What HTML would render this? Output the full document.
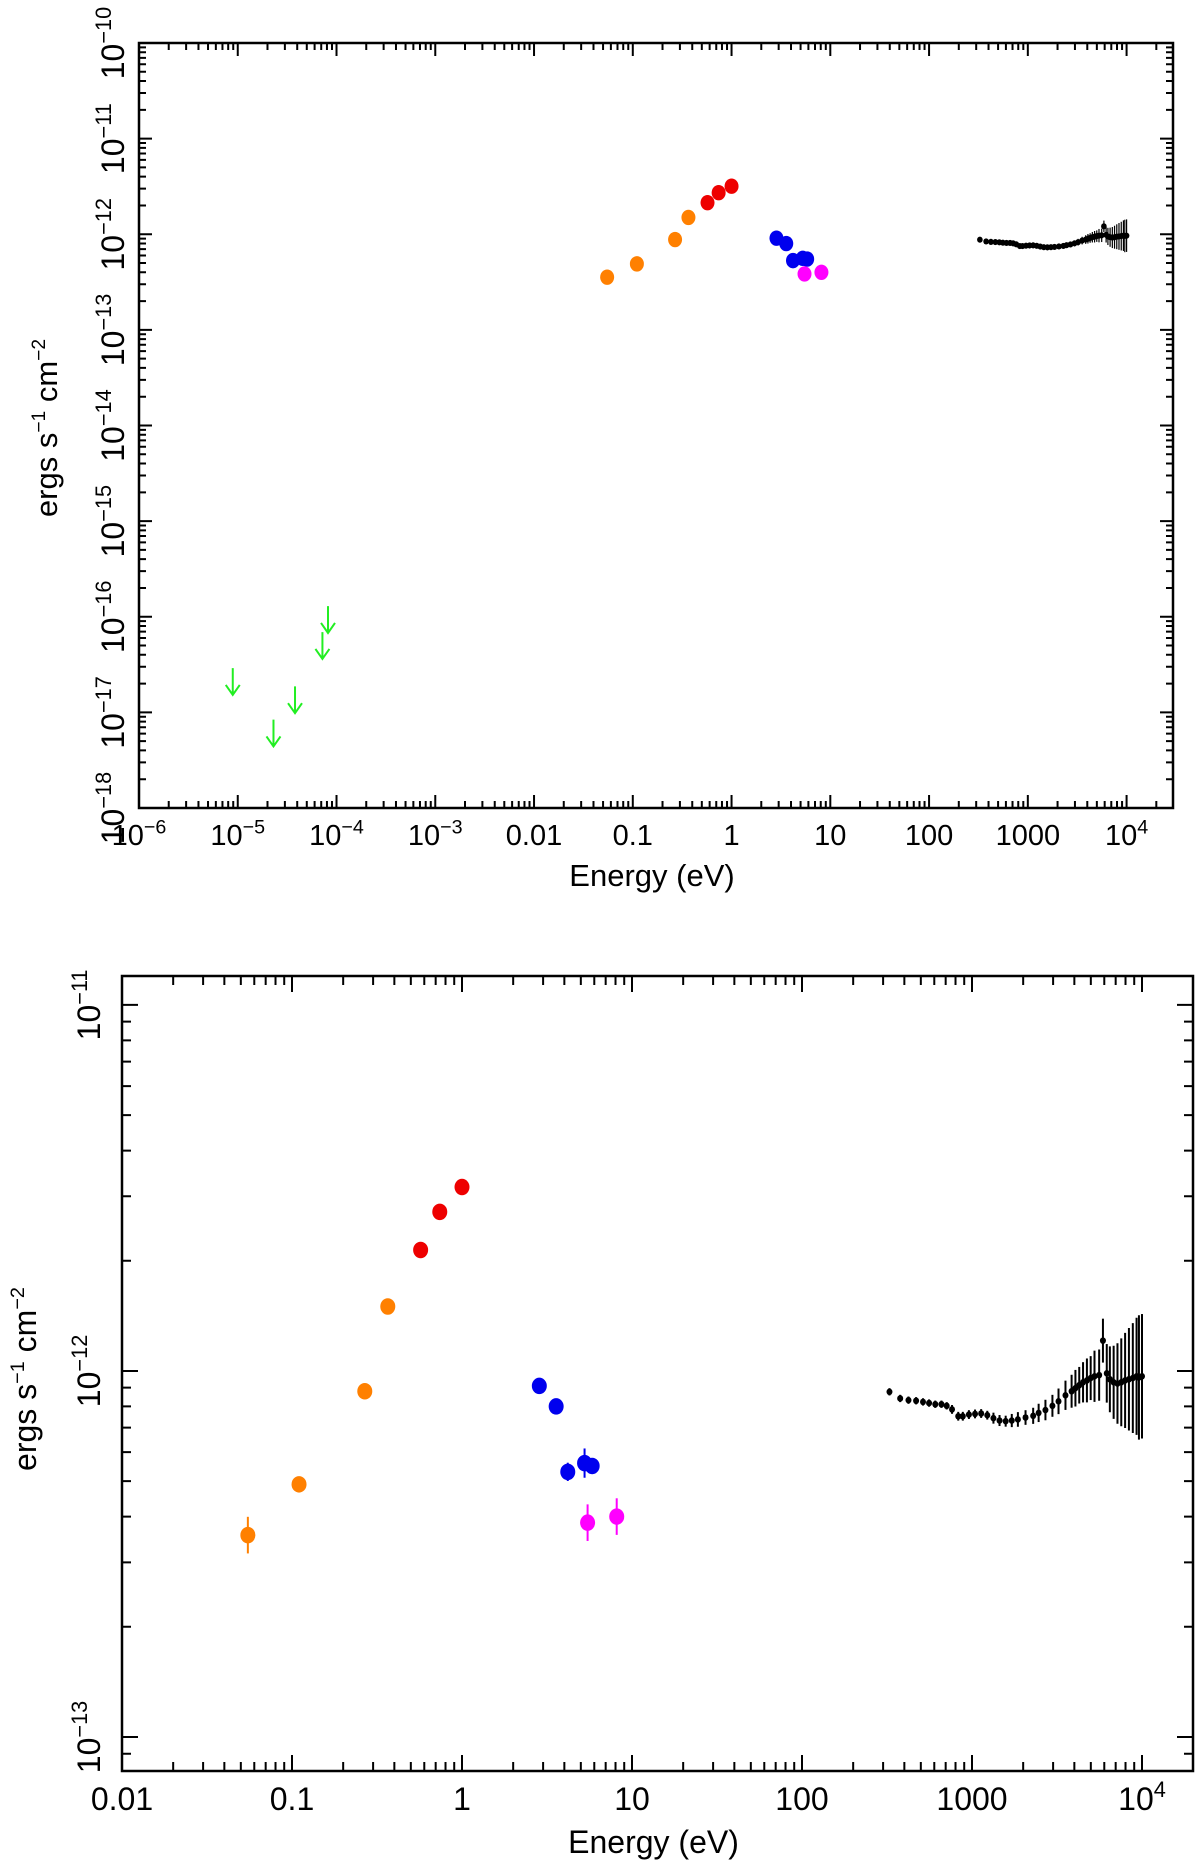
<!DOCTYPE html>
<html><head><meta charset="utf-8"><style>
html,body{margin:0;padding:0;background:#fff;}
svg text{font-family:"Liberation Sans",sans-serif;fill:#000;}
</style></head><body>
<svg id="chart" width="1200" height="1863" viewBox="0 0 1200 1863" xmlns="http://www.w3.org/2000/svg"></svg>
<script>
// ---- data ----
const optE = [0.055, 0.11, 0.268, 0.366];
const optF = [3.56e-13, 4.9e-13, 8.8e-13, 1.5e-12];
const optErr = [0.05, 0.02, 0.02, 0.02];
const redE = [0.571, 0.74, 1.0];
const redF = [2.14e-12, 2.72e-12, 3.18e-12];
const redErr = [0.02, 0.02, 0.02];
const blueE = [2.85, 3.58, 4.19, 5.26, 5.83];
const blueF = [9.1e-13, 8.0e-13, 5.3e-13, 5.6e-13, 5.5e-13];
const blueErr = [0.02, 0.02, 0.025, 0.04, 0.02];
const magE = [5.48, 8.13];
const magF = [3.85e-13, 4.0e-13];
const magErr = [0.05, 0.05];
const xrayE = [327,378,423,469,515,559,608,661,710,763,830,883,959,1042,1132,1230,1337,1452,1578,1714,1862,2065,2290,2466,2704,2972,3228,3547,3854,4059,4274,4500,4742,4990,5256,5597,5892,6205,6471,6811,7173,7553,7955,8377,8831,9290,9594,10000];
const xrayF = [8.77,8.41,8.32,8.29,8.23,8.17,8.11,8.11,8.03,7.85,7.52,7.52,7.60,7.63,7.65,7.57,7.43,7.32,7.29,7.32,7.37,7.46,7.54,7.68,7.82,8.03,8.26,8.58,8.80,8.97,9.14,9.31,9.42,9.56,9.67,9.74,12.1,9.85,9.49,9.31,9.24,9.31,9.42,9.49,9.56,9.67,9.60,9.67]; // units of 1e-13
const xrayErr = [0.01,0.01,0.01,0.01,0.01,0.01,0.01,0.01,0.01,0.012,0.012,0.012,0.012,0.012,0.012,0.012,0.015,0.015,0.015,0.018,0.02,0.02,0.022,0.025,0.028,0.03,0.035,0.04,0.045,0.05,0.05,0.055,0.06,0.06,0.07,0.07,0.06,0.08,0.09,0.1,0.11,0.12,0.13,0.14,0.15,0.16,0.17,0.17];
const ulE = [8.9e-6, 2.3e-5, 3.8e-5, 7.2e-5, 8.2e-5];
const ulF = [2.9e-17, 8.4e-18, 1.87e-17, 6.9e-17, 1.29e-16];
const topXTicks = ["10^-6","10^-5","10^-4","10^-3","0.01","0.1","1","10","100","1000","10^4"];
const topYTicks = ["10^-18","10^-17","10^-16","10^-15","10^-14","10^-13","10^-12","10^-11","10^-10"];
const botXTicks = ["0.01","0.1","1","10","100","1000","10^4"];
const botYTicks = ["10^-13","10^-12","10^-11"];

const NS = "http://www.w3.org/2000/svg";
const svg = document.getElementById('chart');
function mk(tag, attrs, parent) {
  const e = document.createElementNS(NS, tag);
  for (const k in attrs) e.setAttribute(k, attrs[k]);
  (parent || svg).appendChild(e);
  return e;
}
function labelText(parent, s, x, y, size, rotate) {
  const t = mk('text', {x: x, y: y, 'font-size': size, 'text-anchor': 'middle'}, parent);
  if (rotate) t.setAttribute('transform', 'rotate(-90 ' + x + ' ' + y + ')');
  if (s.indexOf('^') >= 0) {
    const p = s.split('^');
    const a = mk('tspan', {}, t); a.textContent = p[0];
    const b = mk('tspan', {'font-size': size * 0.68, dy: -size * 0.4}, t);
    b.textContent = p[1].replace('-', '\u2212');
  } else t.textContent = s;
  return t;
}

function panel(cfg) {
  const g = mk('g', {});
  
  
  const L = cfg.left, R = cfg.right, T = cfg.top, B = cfg.bottom;
  const sx = v => L + (Math.log10(v) - cfg.xmin) / (cfg.xmax - cfg.xmin) * (R - L);
  const sy = v => B - (Math.log10(v) - cfg.ymin) / (cfg.ymax - cfg.ymin) * (B - T);
  const ly = l => B - (l - cfg.ymin) / (cfg.ymax - cfg.ymin) * (B - T);
  const lx = l => L + (l - cfg.xmin) / (cfg.xmax - cfg.xmin) * (R - L);
  const frame = mk('rect', {x: L, y: T, width: R - L, height: B - T, fill: 'none', stroke: '#000', 'stroke-width': 2.5}, g);
  
  
  let d = '';
  for (let dec = Math.floor(cfg.xmin); dec <= Math.ceil(cfg.xmax); dec++) {
    for (let m = 1; m <= 9; m++) {
      const l = dec + Math.log10(m);
      if (l < cfg.xmin - 1e-6 || l > cfg.xmax + 1e-6) continue;
      const x = lx(l), len = m === 1 ? cfg.major : cfg.minor;
      d += `M${x},${B}v${-len}M${x},${T}v${len}`;
    }
  }
  for (let dec = Math.floor(cfg.ymin); dec <= Math.ceil(cfg.ymax); dec++) {
    for (let m = 1; m <= 9; m++) {
      const l = dec + Math.log10(m);
      if (l < cfg.ymin - 1e-6 || l > cfg.ymax + 1e-6) continue;
      const y = ly(l), len = m === 1 ? cfg.major : cfg.minor;
      d += `M${L},${y}h${len}M${R},${y}h${-len}`;
    }
  }
  const tk = mk('path', {d: d, stroke: '#000', 'stroke-width': 2, fill: 'none'}, g);
  
  
  cfg.xTicks.forEach((s, i) => {
    const t = labelText(g, s, lx(cfg.xFirst + i), cfg.xLabelY, cfg.fs, false);
    
    
  });
  cfg.yTicks.forEach((s, i) => {
    const t = labelText(g, s, cfg.yLabelX, ly(cfg.yFirst + i), cfg.yfs, true);
    
    
  });
  const xt = mk('text', {x: (L + R) / 2 - 4, y: cfg.xTitleY, 'font-size': cfg.tfs, 'text-anchor': 'middle'}, g);
  xt.textContent = 'Energy (eV)';
  
  
  const yt = mk('text', {x: cfg.yTitleX, y: cfg.yTitleY, 'font-size': cfg.tfs, 'text-anchor': 'middle', transform: `rotate(-90 ${cfg.yTitleX} ${cfg.yTitleY})`}, g);
  
  
  const f = cfg.tfs;
  yt.innerHTML = 'ergs s<tspan font-size="' + f * 0.62 + '" dy="' + (-f * 0.38) + '">\u22121</tspan><tspan dy="' + (f * 0.38) + '"> cm</tspan><tspan font-size="' + f * 0.62 + '" dy="' + (-f * 0.38) + '">\u22122</tspan>';

  function series(E, F, Er, color, r, name, scale, ebw) {
    const sg = mk('g', {}, g);
    
    
    for (let i = 0; i < E.length; i++) {
      const fv = F[i] * scale, x = sx(E[i]), y = sy(fv);
      const y1 = sy(fv * Math.pow(10, Er[i])), y2 = sy(fv / Math.pow(10, Er[i]));
      const eb = mk('line', {x1: x, x2: x, y1: y1, y2: y2, stroke: color, 'stroke-width': ebw}, sg);
      
      
      const c = mk('ellipse', {cx: x, cy: y, rx: r, ry: r * 1.1, fill: color}, sg);
      
      
    }
  }
  series(optE, optF, optErr, '#ff8000', cfg.r, 'optical-series', 1, cfg.ebw);
  series(redE, redF, redErr, '#ee0000', cfg.r, 'red-series', 1, cfg.ebw);
  series(blueE, blueF, blueErr, '#0000ee', cfg.r, 'uv-series', 1, cfg.ebw);
  series(magE, magF, magErr, '#ff00ff', cfg.r, 'magenta-series', 1, cfg.ebw);
  series(xrayE, xrayF, xrayErr, '#000', cfg.rx, 'xray-series', 1e-13, cfg.xebw);
  if (cfg.showUL) {
    const ug = mk('g', {}, g);
    
    
    for (let i = 0; i < ulE.length; i++) {
      const x = sx(ulE[i]), y = sy(ulF[i]), y2 = sy(ulF[i] / Math.pow(10, 0.28));
      const a = mk('path', {d: `M${x},${y}V${y2}M${x - 7},${y2 - 10}L${x},${y2}L${x + 7},${y2 - 10}`, stroke: '#22ee22', 'stroke-width': 2, fill: 'none'}, ug);
      
      
    }
  }
}

panel({name: 'top-panel', left: 139, right: 1173, top: 43, bottom: 808,
  xmin: -6, xmax: 4.47, ymin: -18, ymax: -10, major: 13, minor: 7,
  xTicks: topXTicks, xFirst: -6, yTicks: topYTicks, yFirst: -18,
  xLabelY: 845, yLabelX: 124, fs: 29, yfs: 32, tfs: 31, xTitleY: 886, yTitleX: 57, yTitleY: 428,
  r: 7, rx: 2.8, ebw: 1.5, xebw: 1.2, showUL: true});
panel({name: 'bottom-panel', left: 122, right: 1193, top: 976, bottom: 1771,
  xmin: -2, xmax: 4.3, ymin: -13.093, ymax: -10.921, major: 16, minor: 9,
  xTicks: botXTicks, xFirst: -2, yTicks: botYTicks, yFirst: -13,
  xLabelY: 1810, yLabelX: 100, fs: 32, yfs: 32, tfs: 32, xTitleY: 1853, yTitleX: 36, yTitleY: 1379,
  r: 7.5, rx: 3, ebw: 2, xebw: 2, showUL: false});
</script>
</body></html>
